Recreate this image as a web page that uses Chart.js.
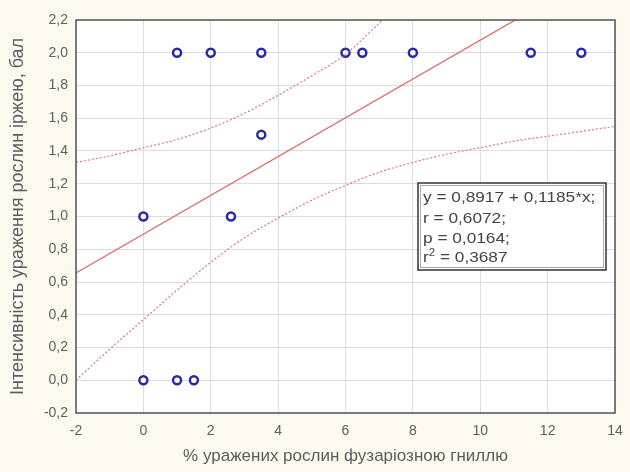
<!DOCTYPE html>
<html>
<head>
<meta charset="utf-8">
<script src="https://cdn.jsdelivr.net/npm/chart.js@4"></script>
<style>
  html, body { margin: 0; padding: 0; background: #fdf9ef; }
  #wrap { width: 630px; height: 472px; }
</style>
</head>
<body>
<div id="wrap"><canvas id="myChart" width="630" height="472"></canvas></div>
<script>
// observed points: % of plants with fusarium rot vs. damage intensity
var pctInfected = [0, 1, 1.5, 0, 2.6, 3.5, 1, 2, 3.5, 6, 6.5, 8, 11.5, 13];
var intensity   = [0, 0, 0,   1, 1,   1.5, 2, 2, 2,   2, 2,   2, 2,    2];

// fitted line y = 0.8917 + 0.1185*x, taken at the axis ends
var fitX = [-2, 14];
var fitY = [0.6547, 2.5507];

// 95% confidence band
var upperX = [-2, -1, 0, 1, 2, 3, 4, 5, 6, 7.1];
var upperY = [1.33, 1.37, 1.42, 1.47, 1.54, 1.63, 1.74, 1.86, 1.99, 2.2];
var lowerX = [-2, -1, 0, 1, 2, 3, 4, 5, 6, 7, 8, 9, 10, 11, 12, 13, 14];
var lowerY = [0.0, 0.19, 0.37, 0.55, 0.72, 0.87, 0.99, 1.10, 1.19, 1.27, 1.33, 1.38, 1.42, 1.46, 1.49, 1.52, 1.55];

var statLines = ['y = 0,8917 + 0,1185*x;', 'r = 0,6072;', 'p = 0,0164;', 'r2 = 0,3687'];

function pairs(xs, ys) {
    return xs.map(function (x, i) { return { x: x, y: ys[i] }; });
}

var ctx = document.getElementById("myChart").getContext("2d");
var FONT = '"Liberation Sans", Arial, sans-serif';

var frame = {
    id: 'frame',
    beforeDraw: function (chart) {
        var c = chart.ctx, a = chart.chartArea;
        c.save();
        c.fillStyle = '#fdf9ef';
        c.fillRect(0, 0, chart.width, chart.height);
        c.fillStyle = '#ffffff';
        c.fillRect(a.left, a.top, a.right - a.left, a.bottom - a.top);
        c.restore();
    },
    afterDraw: function (chart) {
        var c = chart.ctx, a = chart.chartArea;
        c.save();
        c.strokeStyle = '#555555';
        c.lineWidth = 1.5;
        c.strokeRect(a.left, a.top, a.right - a.left, a.bottom - a.top);

        // statistics box
        var bx = 418, by = 183, bw = 188, bh = 87;
        c.fillStyle = '#ffffff';
        c.fillRect(bx, by, bw, bh);
        c.strokeStyle = '#333333';
        c.lineWidth = 1.5;
        c.strokeRect(bx, by, bw, bh);
        c.strokeStyle = '#aaaaaa';
        c.lineWidth = 1;
        c.strokeRect(bx + 2.5, by + 2.5, bw - 5, bh - 5);

        // text is a little wider than normal Arial in the original
        c.translate(bx + 5, 0);
        c.scale(1.15, 1);
        c.fillStyle = '#444444';
        c.font = '15px ' + FONT;
        c.textBaseline = 'middle';
        var ty = [198, 219, 239, 258];
        for (var i = 0; i < 3; i++) c.fillText(statLines[i], 0, ty[i]);
        // r squared with superscript
        c.fillText('r', 0, ty[3]);
        var rw = c.measureText('r').width;
        c.font = '10px ' + FONT;
        c.fillText('2', rw, ty[3] - 5);
        var sw = c.measureText('2').width;
        c.font = '15px ' + FONT;
        c.fillText(' = 0,3687', rw + sw, ty[3]);
        c.restore();
    }
};

var bandStyle = {
    type: 'line',
    borderColor: '#e07585',
    borderWidth: 1.2,
    borderDash: [2, 2],
    pointRadius: 0,
    fill: false,
    cubicInterpolationMode: 'monotone'
};

var myChart = new Chart(ctx, {
    type: 'scatter',
    data: {
        datasets: [
            Object.assign({ data: pairs(upperX, upperY) }, bandStyle),
            Object.assign({ data: pairs(lowerX, lowerY) }, bandStyle),
            {
                type: 'line',
                data: pairs(fitX, fitY),
                borderColor: '#e06a6a',
                borderWidth: 1.3,
                pointRadius: 0,
                fill: false
            },
            {
                data: pairs(pctInfected, intensity),
                pointRadius: 4,
                pointBorderWidth: 2.5,
                borderColor: '#2a2aa8',
                backgroundColor: '#ffffff'
            }
        ]
    },
    options: {
        responsive: false,
        animation: false,
        layout: { padding: { left: 0, right: 15, top: 20, bottom: 0 } },
        plugins: {
            legend: { display: false },
            tooltip: { enabled: false }
        },
        scales: {
            x: {
                type: 'linear',
                min: -2, max: 14,
                ticks: {
                    stepSize: 2,
                    color: '#606060',
                    padding: 10,
                    font: { family: FONT, size: 14 }
                },
                grid: { color: '#dddddd', drawTicks: false },
                border: { display: false },
                title: {
                    display: true,
                    text: '% уражених рослин фузаріозною гниллю',
                    color: '#5c5c5c',
                    padding: { top: 4, bottom: 5 },
                    font: { family: FONT, size: 17 }
                },
                afterFit: function (scale) {
                    scale.height = 59;
                    scale.paddingRight = 0;
                    scale.paddingLeft = 0;
                }
            },
            y: {
                type: 'linear',
                min: -0.2, max: 2.2,
                ticks: {
                    stepSize: 0.2,
                    color: '#606060',
                    padding: 8,
                    font: { family: FONT, size: 14 },
                    callback: function (v) { return v.toFixed(1).replace('.', ','); }
                },
                grid: { color: '#dddddd', drawTicks: false },
                border: { display: false },
                title: {
                    display: true,
                    text: 'Інтенсивність ураження рослин іржею, бал',
                    color: '#5c5c5c',
                    padding: { top: 7, bottom: 0 },
                    font: { family: FONT, size: 18 }
                },
                afterFit: function (scale) {
                    scale.width = 76;
                    scale.paddingTop = 0;
                    scale.paddingBottom = 0;
                }
            }
        }
    },
    plugins: [frame]
});
</script>
</body>
</html>
